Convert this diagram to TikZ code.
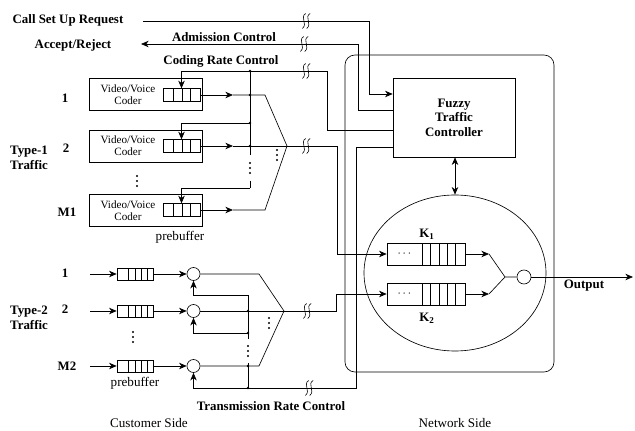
\documentclass[tikz,border=0pt]{standalone}
\usepackage{fontspec}
\setmainfont{Liberation Serif}
\usetikzlibrary{arrows.meta,shapes.geometric}

\tikzset{
  rbreak/.pic={
    \foreach \dx in {-2.2,2.2}
      \draw[line width=0.5pt] (\dx+2,-7.5) .. controls (\dx-4.5,-4) and (\dx+4.5,3) .. (\dx-1.5,7.5);
  },
  vdotsmark/.pic={
    \foreach \dy in {-5,0,5}
      \fill (0,\dy) circle[radius=0.95pt];
  }
}

\begin{document}
\begin{tikzpicture}[x=0.03cm, y=-0.03cm, line width=0.55pt,
    >={Stealth[length=6.5pt,width=5.5pt,inset=2pt]},
    lbl/.style={font=\fontsize{11}{12.3}\selectfont\bfseries, inner sep=0pt, align=center},
    side/.style={font=\fontsize{11.2}{13}\selectfont, inner sep=0pt},
    coderbox/.style={draw, minimum width=3.39cm, minimum height=0.97cm, inner sep=0pt},
    codertxt/.style={font=\fontsize{9.5}{10.3}\selectfont, align=center, inner sep=0pt},
    pbuf/.style={draw, minimum width=1.11cm, minimum height=0.38cm, inner sep=0pt,
      path picture={\foreach \cx in {0.27,0.51,0.73}
        \draw ([xshift=\cx*1.11cm]path picture bounding box.south west) -- ++(0,0.38cm);}},
    qbuf/.style={draw, minimum width=1.08cm, minimum height=0.35cm, inner sep=0pt,
      path picture={\foreach \cx in {0.31,0.5,0.67,0.83}
        \draw ([xshift=\cx*1.08cm]path picture bounding box.south west) -- ++(0,0.35cm);}},
    kbuf/.style={draw, minimum width=2.34cm, minimum height=0.66cm, inner sep=0pt,
      path picture={\foreach \cx in {0.45,0.56,0.67,0.77,0.88}
        \draw ([xshift=\cx*2.34cm]path picture bounding box.south west) -- ++(0,0.66cm);
        \node at ([xshift=0.52cm]path picture bounding box.west) {$\cdots$};}},
    adder/.style={draw, circle, minimum size=0.39cm, inner sep=0pt},
    outadder/.style={draw, circle, minimum size=0.42cm, inner sep=0pt}]

    \useasboundingbox (0,0) rectangle (635,431);

    % network side
    \node[draw, rounded corners=0.3cm, minimum width=6.27cm, minimum height=9.51cm] (net_box) at (449.5,213.5) {};
    \node[draw, lbl, minimum width=3.66cm, minimum height=2.37cm] (ftc_box) at (454,117.5) {Fuzzy\\Traffic\\Controller};
    \node[draw, ellipse, minimum width=5.46cm, minimum height=4.68cm, inner sep=0pt] (k_pool) at (455,273) {};
    \node[kbuf] (k_one) at (426,254) {};
    \node[kbuf] (k_two) at (426,294) {};
    \node[lbl] (k_one_lbl) at (427,234) {K\textsubscript{1}};
    \node[lbl] (k_two_lbl) at (427,318) {K\textsubscript{2}};
    \node[outadder] (out_add) at (524,277) {};
    \node[lbl] (out_lbl) at (584,286) {Output};

    \coordinate (k_arr_one) at (489,254);
    \coordinate (k_arr_two) at (489,294);
    \coordinate (k_merge) at (505,277);
    \coordinate (out_end) at (633,277);

    \draw [->] (k_one.east) -- (k_arr_one);
    \draw [->] (k_two.east) -- (k_arr_two);
    \draw (k_arr_one) -- (k_merge) -- (out_add.west);
    \draw (k_arr_two) -- (k_merge);
    \draw [->] (out_add.east) -- (out_end);
    \draw [<->] (k_pool.north |- ftc_box.south) -- (k_pool.north);

    % call set up and admission
    \node[lbl] (call_lbl) at (68,20) {Call Set Up Request};
    \node[lbl] (acc_lbl) at (73,45) {Accept/Reject};
    \node[lbl] (adm_lbl) at (224,37) {Admission Control};
    \node[lbl] (crc_lbl) at (221,61) {Coding Rate Control};

    \coordinate (call_start) at (143,21);
    \coordinate (call_bend) at (369,21);
    \coordinate (call_drop) at (369,94);
    \coordinate (adm_bend_low) at (358,110);
    \coordinate (adm_bend_top) at (358,44);
    \coordinate (adm_end) at (141,44);

    \draw [->] (call_start) -- (call_bend) -- (call_drop) -- (ftc_box.west |- call_drop);
    \draw [->] (ftc_box.west |- adm_bend_low) -- (adm_bend_low) -- (adm_bend_top) -- (adm_end);
    \pic at (306,21) {rbreak};
    \pic at (304,44) {rbreak};

    % type-1 traffic
    \node[lbl] (t1_no_one) at (65,98) {1};
    \node[lbl] (t1_no_two) at (66,148) {2};
    \node[lbl] (t1_no_m) at (67,212) {M1};
    \node[lbl] (t1_lbl) at (29,158) {Type-1\\Traffic};
    \pic at (137,181) {vdotsmark};

    \node[coderbox] (coder_one) at (145.5,94.5) {};
    \node[coderbox] (coder_two) at (145.5,146) {};
    \node[coderbox] (coder_m) at (145.5,210.5) {};
    \node[codertxt] (coder_one_txt) at (128,94.5) {Video/Voice\\Coder};
    \node[codertxt] (coder_two_txt) at (128,146) {Video/Voice\\Coder};
    \node[codertxt] (coder_m_txt) at (128,210.5) {Video/Voice\\Coder};
    \node[pbuf] (pbuf_one) at (181.5,95) {};
    \node[pbuf] (pbuf_two) at (181.5,146) {};
    \node[pbuf] (pbuf_m) at (181.5,210) {};
    \node[side] (pre_one_lbl) at (180,237) {prebuffer};

    \coordinate (crc_bend_low) at (327,130);
    \coordinate (crc_bend_top) at (327,71);
    \coordinate (crc_bus_top) at (250,71);
    \coordinate (crc_bus_two) at (250,123);
    \coordinate (crc_bus_gap) at (250,155);
    \coordinate (crc_bus_back) at (250,181);
    \coordinate (crc_bus_end) at (250,188);

    \draw (ftc_box.west |- crc_bend_low) -- (crc_bend_low) -- (crc_bend_top) -- (crc_bus_top) -- (crc_bus_gap);
    \draw (crc_bus_back) -- (crc_bus_end);
    \draw [->] (crc_bus_top) -- (pbuf_one.north |- crc_bus_top) -- (pbuf_one.north);
    \draw [->] (crc_bus_two) -- (pbuf_two.north |- crc_bus_two) -- (pbuf_two.north);
    \draw [->] (crc_bus_end) -- (pbuf_m.north |- crc_bus_end) -- (pbuf_m.north);
    \pic at (250,168) {vdotsmark};
    \pic at (306,71) {rbreak};

    \coordinate (t1_arr_one) at (233,95);
    \coordinate (t1_arr_two) at (233,146);
    \coordinate (t1_arr_m) at (233,210);
    \coordinate (t1_bend_one) at (265,95);
    \coordinate (t1_bend_m) at (265,210);
    \coordinate (t1_merge) at (287,146);
    \coordinate (t1_corner) at (337,146);

    \draw [->] (pbuf_one.east) -- (t1_arr_one);
    \draw [->] (pbuf_two.east) -- (t1_arr_two);
    \draw [->] (pbuf_m.east) -- (t1_arr_m);
    \draw (t1_arr_one) -- (t1_bend_one) -- (t1_merge);
    \draw (t1_arr_two) -- (t1_merge);
    \draw (t1_arr_m) -- (t1_bend_m) -- (t1_merge);
    \draw [->] (t1_merge) -- (t1_corner) -- (t1_corner |- k_one.west) -- (k_one.west);
    \pic at (277,155) {vdotsmark};
    \pic at (306,146) {rbreak};

    \fill (crc_bus_top) circle[radius=1.1pt];
    \fill (crc_bus_two) circle[radius=1.1pt];
    \fill (crc_bus_top |- t1_arr_one) circle[radius=1.1pt];
    \fill (crc_bus_top |- t1_arr_two) circle[radius=1.1pt];

    % type-2 traffic
    \node[lbl] (t2_no_one) at (65,273) {1};
    \node[lbl] (t2_no_two) at (65,309) {2};
    \node[lbl] (t2_no_m) at (67,366) {M2};
    \node[lbl] (t2_lbl) at (29,318) {Type-2\\Traffic};
    \pic at (133,337) {vdotsmark};

    \node[qbuf] (qbuf_one) at (135,274) {};
    \node[qbuf] (qbuf_two) at (135,311) {};
    \node[qbuf] (qbuf_m) at (135,366) {};
    \node[side] (pre_two_lbl) at (135,383) {prebuffer};
    \node[adder] (add_one) at (193.5,274) {};
    \node[adder] (add_two) at (193.5,311) {};
    \node[adder] (add_m) at (193.5,366) {};

    \coordinate (t2_in_one) at (90,274);
    \coordinate (t2_in_two) at (90,311);
    \coordinate (t2_in_m) at (90,366);
    \draw [->] (t2_in_one) -- (qbuf_one.west);
    \draw [->] (t2_in_two) -- (qbuf_two.west);
    \draw [->] (t2_in_m) -- (qbuf_m.west);
    \draw [->] (qbuf_one.east) -- (add_one.west);
    \draw [->] (qbuf_two.east) -- (add_two.west);
    \draw [->] (qbuf_m.east) -- (add_m.west);

    \coordinate (t2_bend_one) at (259,274);
    \coordinate (t2_bend_m) at (259,366);
    \coordinate (t2_merge) at (284,311);
    \coordinate (t2_corner) at (336,311);

    \draw (add_one.east) -- (t2_bend_one) -- (t2_merge);
    \draw (add_two.east) -- (t2_merge);
    \draw (add_m.east) -- (t2_bend_m) -- (t2_merge);
    \draw [->] (t2_merge) -- (t2_corner) -- (t2_corner |- k_two.west) -- (k_two.west);
    \pic at (269,323) {vdotsmark};
    \pic at (307,311) {rbreak};

    \coordinate (trc_bend_top) at (356,147);
    \coordinate (trc_bend_low) at (356,388);
    \coordinate (trc_bus_top) at (248,295);
    \coordinate (trc_bus_two) at (248,333);
    \coordinate (trc_bus_back) at (248,339);
    \coordinate (trc_bus_gap) at (248,363);
    \coordinate (trc_bus_low) at (248,388);

    \draw [->] (ftc_box.west |- trc_bend_top) -- (trc_bend_top) -- (trc_bend_low) -- (add_m.south |- trc_bend_low) -- (add_m.south);
    \draw (trc_bus_top) -- (trc_bus_back);
    \draw (trc_bus_gap) -- (trc_bus_low);
    \draw [->] (trc_bus_top) -- (add_one.south |- trc_bus_top) -- (add_one.south);
    \draw [->] (trc_bus_two) -- (add_two.south |- trc_bus_two) -- (add_two.south);
    \pic at (248,351) {vdotsmark};
    \pic at (309,388) {rbreak};

    \fill (trc_bus_two) circle[radius=1.1pt];
    \fill (trc_bus_low) circle[radius=1.1pt];
    \fill (trc_bus_top |- t2_merge) circle[radius=1.1pt];
    \fill (trc_bus_top |- t2_bend_m) circle[radius=1.1pt];

    \node[lbl] (trc_lbl) at (271,406) {Transmission Rate Control};
    \node[side] (cust_lbl) at (149,423) {Customer Side};
    \node[side] (net_lbl) at (455,423) {Network Side};

\end{tikzpicture}
\end{document}
